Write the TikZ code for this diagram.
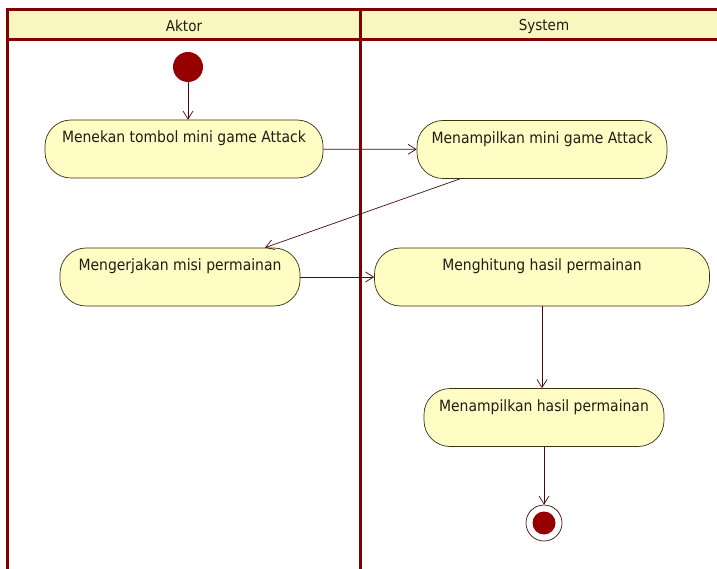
\documentclass[tikz,border=0pt]{standalone}
\usepackage{fontspec}
\setmainfont{DejaVu Sans Condensed}
\usetikzlibrary{arrows.meta,calc}
\definecolor{lane}{RGB}{128,0,0}
\definecolor{headfill}{RGB}{250,246,192}
\definecolor{actfill}{RGB}{255,252,196}
\definecolor{actline}{RGB}{60,50,20}
\definecolor{flow}{RGB}{70,10,10}
\definecolor{dot}{RGB}{150,0,0}
\definecolor{ink}{RGB}{30,30,20}
\tikzset{
  activity/.style={draw=actline, line width=0.7pt, fill=actfill, rounded corners=26pt,
    inner sep=0pt, minimum height=58pt, text height=11pt, text depth=23pt,
    text=ink, font=\fontsize{15.5}{17}\selectfont},
  swim/.style={draw=lane, line width=3pt},
  flowline/.style={draw=flow, line width=0.7pt, -{Straight Barb[length=8pt,width=10pt,line width=0.7pt]}},
  lanetitle/.style={text=ink, font=\fontsize{15}{17}\selectfont}
}
\begin{document}
\begin{tikzpicture}[x=1pt,y=-1pt]
\useasboundingbox (0,0) rectangle (717,569);
\fill[white] (0,0) rectangle (717,569);
% swimlane header band and borders
\fill[headfill] (7,10) rectangle (717,40);
\draw[swim] (717,10) -- (7,10) -- (7,569);
\draw[swim] (7,40) -- (717,40);
\draw[swim] (360,10) -- (360,569);
\node[lanetitle] (laneA) at (184,26) {Aktor};
\node[lanetitle] (laneS) at (544,26) {System};
% start and final states
\node[circle, fill=dot, minimum size=30pt, inner sep=0pt] (start) at (188,67) {};
\node[circle, draw=flow, line width=0.7pt, fill=white, minimum size=36pt, inner sep=0pt] (final) at (544,523) {};
\node[circle, fill=dot, minimum size=23pt, inner sep=0pt] (finaldot) at (544,523) {};
% activities
\node[activity, minimum width=278pt] (n1) at (184,149) {Menekan tombol mini game Attack};
\node[activity, minimum width=250pt] (n2) at (542,149.5) {Menampilkan mini game Attack};
\node[activity, minimum width=240pt] (n3) at (180,277) {Mengerjakan misi permainan};
\node[activity, minimum width=335pt] (n4) at (542,277) {Menghitung hasil permainan};
\node[activity, minimum width=240pt] (n5) at (544,417.5) {Menampilkan hasil permainan};
% control flows
\draw[flowline] (start) -- (start |- n1.north);
\draw[flowline] (n1) -- (n2);
\draw[flowline] ($(n2.south)+(-82,0)$) -- ($(n3.north)+(85,0)$);
\draw[flowline] (n3) -- (n4);
\draw[flowline] (n4) -- (n4 |- n5.north);
\draw[flowline] (n5) -- (final);
\end{tikzpicture}
\end{document}
